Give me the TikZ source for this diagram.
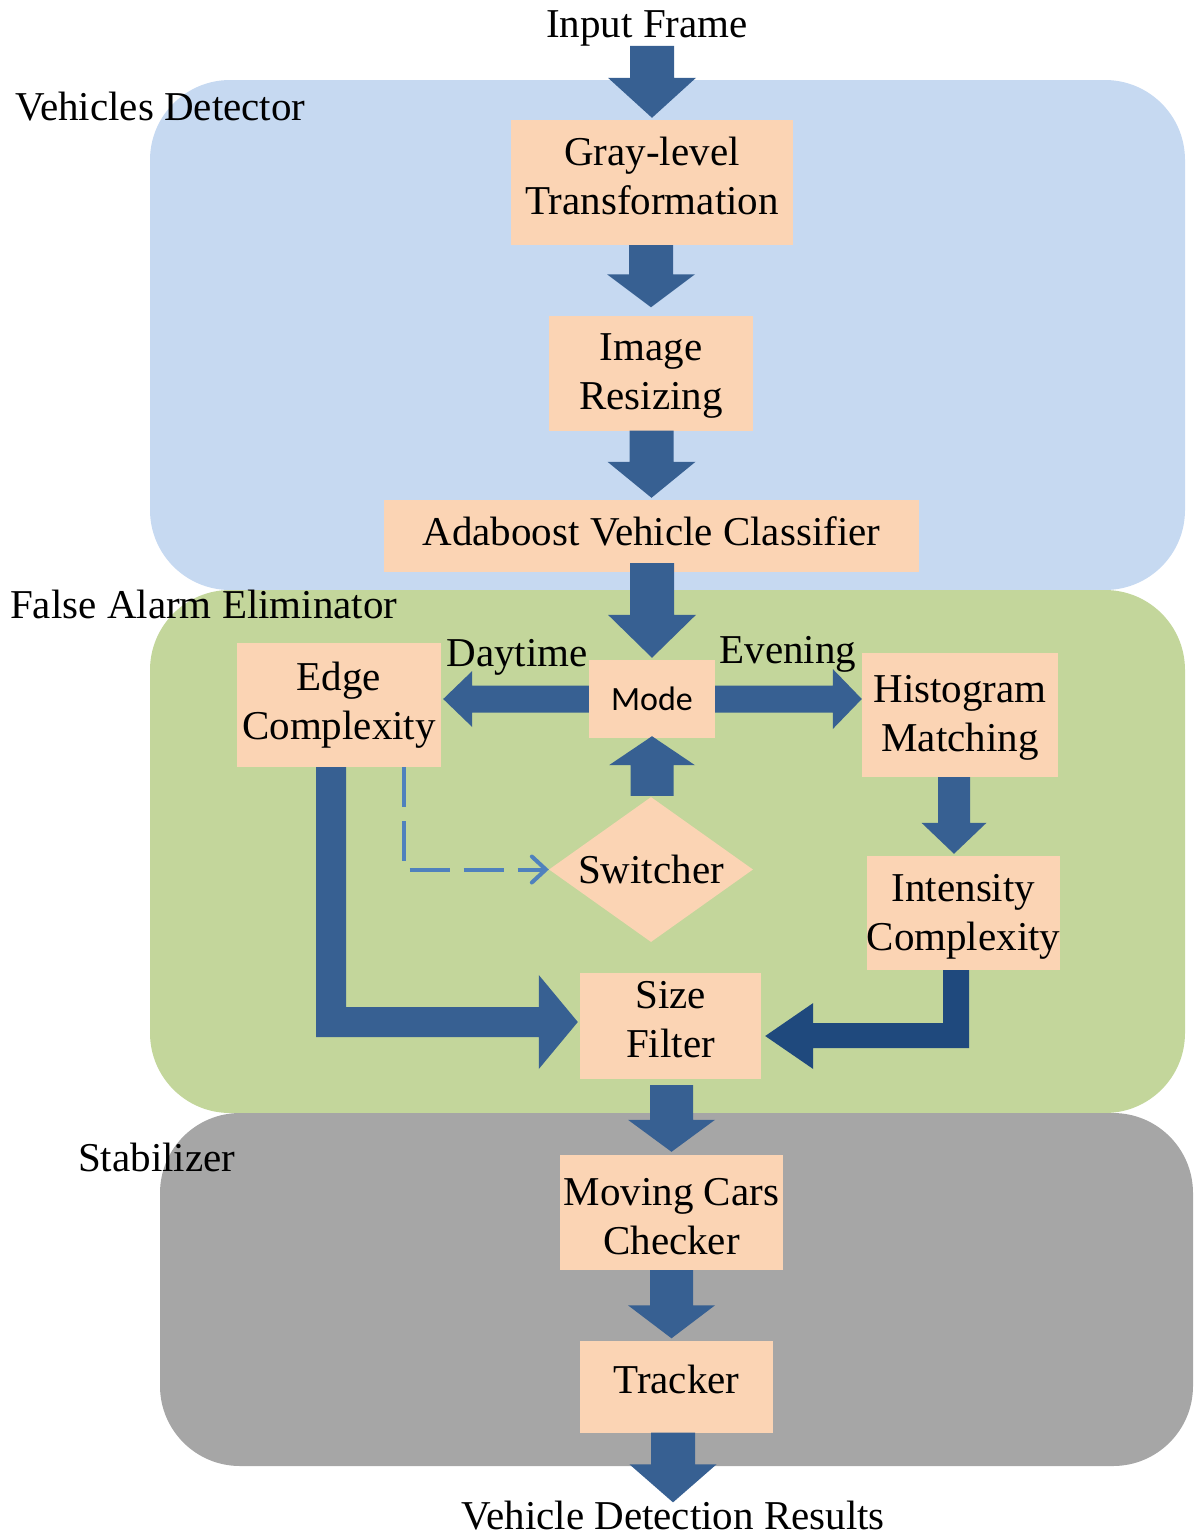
\documentclass[tikz,border=0pt]{standalone}
\usepackage{fontspec}
\setmainfont{Liberation Serif}
\newfontfamily\modefont{Carlito}
\usetikzlibrary{calc,shapes.geometric,arrows.meta}

\definecolor{peach}{RGB}{251,212,180}
\definecolor{detbg}{RGB}{198,217,241}
\definecolor{fabg}{RGB}{195,214,155}
\definecolor{stbg}{RGB}{166,166,166}
\definecolor{arrowblue}{RGB}{55,96,146}
\definecolor{arrowdark}{RGB}{31,73,125}
\definecolor{dashblue}{RGB}{79,129,189}

% invisible strut setting the height of a block's first text line
\newcommand\topstrut[1][30pt]{\rule{0pt}{#1}}

% vertical block arrow:
% [colour]{start}{start shift dx,dy}{tip}{tip shift dx,dy}{shaft half width}{head half width}{signed head length}
\newcommand\vblk[8][arrowblue]{%
  \fill[#1] ($(#2)+(#3)+({-(#6)},0)$) -- ($(#4)+(#5)+({-(#6)},{-(#8)})$)
    -- ($(#4)+(#5)+({-(#7)},{-(#8)})$) -- ($(#4)+(#5)$)
    -- ($(#4)+(#5)+({#7},{-(#8)})$) -- ($(#4)+(#5)+({#6},{-(#8)})$)
    -- ($(#2)+(#3)+({#6},0)$) -- cycle;}
% horizontal block arrow, same arguments with x and y exchanged
\newcommand\hblk[8][arrowblue]{%
  \fill[#1] ($(#2)+(#3)+(0,{-(#6)})$) -- ($(#4)+(#5)+({-(#8)},{-(#6)})$)
    -- ($(#4)+(#5)+({-(#8)},{-(#7)})$) -- ($(#4)+(#5)$)
    -- ($(#4)+(#5)+({-(#8)},{#7})$) -- ($(#4)+(#5)+({-(#8)},{#6})$)
    -- ($(#2)+(#3)+(0,{#6})$) -- cycle;}

\begin{document}
\begin{tikzpicture}[x=1pt,y=-1pt,
  txt/.style={font=\fontsize{41}{49}\selectfont, inner sep=0pt},
  % block text: fixed depth below the last line
  box/.style={txt, fill=peach, align=center,
    execute at end node={\rule[-16pt]{0pt}{16pt}}},
  modebox/.style={fill=peach, inner sep=0pt, font=\modefont\fontsize{34}{40}\selectfont},
  panel/.style={rounded corners=80pt},
  dashconn/.style={draw=dashblue, line width=4pt, dash pattern=on 40pt off 14pt,
    -{Straight Barb[length=14pt,width=26pt,line cap=round]}}]
\useasboundingbox (0,0) rectangle (1195,1537);

% stage panels
\fill[detbg, panel] (150,80) rectangle (1185,590);
\fill[fabg, panel] (150,590) rectangle (1185,1113);
\fill[stbg, panel] (160,1113) rectangle (1193,1466);

% labels
\node[txt, anchor=base] (input) at (647,37) {Input Frame};
\node[txt, anchor=base west] (vdlabel) at (15,120) {Vehicles Detector};
\node[txt, anchor=base west] (falabel) at (10,618) {False Alarm Eliminator};
\node[txt, anchor=base west] (stlabel) at (78,1171) {Stabilizer};
\node[txt, anchor=base] (output) at (673,1529) {Vehicle Detection Results};
\node[txt, anchor=base] (day) at (517,666) {Daytime};
\node[txt, anchor=base] (eve) at (788,663) {Evening};

% processing blocks
\node[box, minimum width=282pt, minimum height=125pt] (gray) at (652,182.5) {\topstrut Gray-level\\Transformation};
\node[box, minimum width=204pt, minimum height=115pt] (img) at (651,373) {\topstrut[40pt]Image\\Resizing};
\node[box, minimum width=535pt, minimum height=72pt] (ada) at (651.5,536) {\topstrut[34pt]Adaboost Vehicle Classifier};
\node[box, minimum width=204pt, minimum height=124pt] (edge) at (339,705) {\topstrut[35pt]Edge\\Complexity};
\node[modebox, minimum width=126pt, minimum height=78pt] (mode) at (652,699) {Mode};
\node[box, minimum width=196pt, minimum height=124pt] (hist) at (960,715) {\topstrut[40pt]Histogram\\Matching};
\node[txt, diamond, fill=peach, aspect=1.4, minimum width=204pt, minimum height=145pt] (switch) at (651,869.5) {Switcher};
\node[box, minimum width=189pt, minimum height=114pt] (inten) at (963.5,913) {\topstrut[42pt]Intensity\\Complexity};
\node[box, minimum width=181pt, minimum height=106pt] (sizef) at (670.5,1026) {\topstrut Size\\Filter};
\node[box, minimum width=223pt, minimum height=115pt] (moving) at (671.5,1212.5) {\topstrut[50pt]Moving Cars\\Checker};
\node[box, minimum width=193pt, minimum height=92pt] (tracker) at (676.5,1386.5) {\topstrut Tracker};

% straight block arrows
\vblk{gray.north |- input.south}{0,0}{gray.north}{0,-2}{22}{44}{40}
\vblk{img.north |- gray.south}{0,0}{img.north}{0,-8}{22}{44}{33}
\vblk{ada.north |- img.south}{0,0}{ada.north}{0,-2}{22}{44}{36}
\vblk{mode.north |- ada.south}{0,-9}{mode.north}{0,-2}{22}{44}{43}
\vblk{mode.south |- switch.north}{0,-1}{mode.south}{0,-2}{21.5}{43}{-29}
\hblk{mode.west}{0,0}{edge.east |- mode.west}{2,0}{13.5}{28}{-29}
\hblk{mode.east}{0,0}{hist.west |- mode.east}{0,0}{13.5}{30}{29}
\vblk{hist.south}{-6,0}{hist.south |- inten.north}{-6,-2}{16}{32.5}{31}
\vblk{moving.north |- sizef.south}{0,6}{moving.north}{0,-3}{21.5}{43.5}{32}
\vblk{moving.south}{0,0}{moving.south |- tracker.north}{0,-2}{21.5}{43.5}{33}
\vblk{output.north |- tracker.south}{0,0}{output.north}{0,2}{22}{43.5}{38}

% elbow arrow: edge complexity to size filter
\fill[arrowblue] ($(edge.south)+(-23,0)$) -- ($(edge.south |- sizef.west)+(-23,11)$)
  -- ($(sizef.west)+(-41,11)$) -- ($(sizef.west)+(-41,43)$) -- ($(sizef.west)+(-2,-4)$)
  -- ($(sizef.west)+(-41,-51)$) -- ($(sizef.west)+(-41,-19)$)
  -- ($(edge.south |- sizef.west)+(7,-19)$) -- ($(edge.south)+(7,0)$) -- cycle;

% elbow arrow: intensity complexity to size filter
\fill[arrowdark] ($(inten.south)+(5.5,0)$) -- ($(inten.south |- sizef.east)+(5.5,22)$)
  -- ($(sizef.east)+(52,22)$) -- ($(sizef.east)+(52,43)$) -- ($(sizef.east)+(4,10)$)
  -- ($(sizef.east)+(52,-23)$) -- ($(sizef.east)+(52,-3)$)
  -- ($(inten.south |- sizef.east)+(-20.5,-3)$) -- ($(inten.south)+(-20.5,0)$) -- cycle;

% dashed feedback to the switcher
\draw[dashconn] ($(edge.south)+(65,0)$) |- (switch.west);
\end{tikzpicture}
\end{document}
